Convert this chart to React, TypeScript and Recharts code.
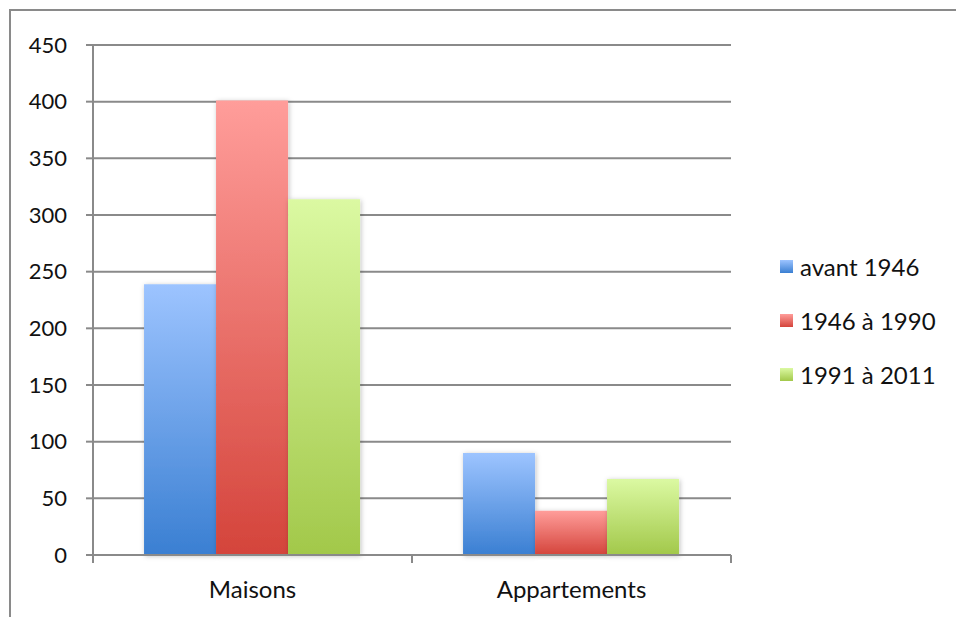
import { BarChart, Bar, XAxis, YAxis, CartesianGrid, Legend } from 'recharts';

const categories = ['Maisons', 'Appartements'];
const avant1946 = [239, 90];
const de1946a1990 = [401, 39];
const de1991a2011 = [314, 67];
const yTicks = [0, 50, 100, 150, 200, 250, 300, 350, 400, 450];

const series = [
  { name: 'avant 1946', values: avant1946, id: 'gradBlue', top: '#9dc4ff', bottom: '#3a7fd2' },
  { name: '1946 à 1990', values: de1946a1990, id: 'gradRed', top: '#ff9d9a', bottom: '#d4443b' },
  { name: '1991 à 2011', values: de1991a2011, id: 'gradGreen', top: '#dbf9a2', bottom: '#a2c84a' },
];

const data = categories.map((name, i) => {
  const row: Record<string, string | number> = { name };
  series.forEach((s) => {
    row[s.name] = s.values[i];
  });
  return row;
});

const AXIS = '#8a8a8a';
const FONT = 'Lato, "Open Sans", sans-serif';

// category labels, with the tick marks sitting on the band edges
function CategoryTick(props: any) {
  const { x, y, payload, index } = props;
  const half = payload.offset ?? 0;
  return (
    <g>
      <line x1={x - half} x2={x - half} y1={y} y2={y + 8} stroke={AXIS} strokeWidth={2} />
      {index === categories.length - 1 && (
        <line x1={x + half} x2={x + half} y1={y} y2={y + 8} stroke={AXIS} strokeWidth={2} />
      )}
      <text x={x} y={y + 43} textAnchor="middle" fill="#111" fontSize={24} fontFamily={FONT}>
        {payload.value}
      </text>
    </g>
  );
}

function LegendBox() {
  return (
    <div style={{ fontFamily: FONT, fontSize: 24, color: '#111' }}>
      {series.map((s) => (
        <div key={s.name} style={{ display: 'flex', alignItems: 'center', height: 54 }}>
          <span
            style={{
              display: 'inline-block',
              width: 13,
              height: 13,
              marginRight: 7,
              background: `linear-gradient(${s.top}, ${s.bottom})`,
            }}
          />
          <span>{s.name}</span>
        </div>
      ))}
    </div>
  );
}

export default function App() {
  return (
    <div style={{ position: 'absolute', left: 0, top: 0, width: 956, height: 617, background: '#fff' }}>
      <div
        style={{
          position: 'absolute',
          left: 9,
          top: 9,
          right: 0,
          bottom: 0,
          borderTop: `2px solid ${AXIS}`,
          borderLeft: `2px solid ${AXIS}`,
        }}
      />
      <BarChart
        width={956}
        height={617}
        data={data}
        margin={{ top: 45, right: 225, bottom: 0, left: 0 }}
        barCategoryGap="16%"
        barGap={0}
        style={{ position: 'absolute', left: 0, top: 0 }}
      >
        <defs>
          {series.map((s) => (
            <linearGradient key={s.id} id={s.id} x1="0" y1="0" x2="0" y2="1">
              <stop offset="0%" stopColor={s.top} />
              <stop offset="100%" stopColor={s.bottom} />
            </linearGradient>
          ))}
          <filter id="barShadow" x="-20%" y="-10%" width="140%" height="120%">
            <feDropShadow dx="1" dy="1" stdDeviation="2.5" floodColor="#000" floodOpacity="0.25" />
          </filter>
        </defs>
        <CartesianGrid vertical={false} stroke={AXIS} strokeWidth={2} />
        <XAxis
          dataKey="name"
          height={62}
          interval={0}
          axisLine={{ stroke: AXIS, strokeWidth: 2 }}
          tickLine={false}
          tickSize={0}
          tickMargin={0}
          tick={<CategoryTick />}
        />
        <YAxis
          width={93}
          domain={[0, 450]}
          ticks={yTicks}
          interval={0}
          axisLine={{ stroke: AXIS, strokeWidth: 2 }}
          tickLine={{ stroke: AXIS, strokeWidth: 2 }}
          tickSize={7}
          tickMargin={19}
          tick={{ fill: '#111', fontSize: 22, fontFamily: FONT }}
        />
        <Legend
          layout="vertical"
          align="center"
          verticalAlign="middle"
          content={<LegendBox />}
          wrapperStyle={{ left: 780, top: 239, width: 176 }}
        />
        {series.map((s) => (
          <Bar
            key={s.name}
            dataKey={s.name}
            fill={`url(#${s.id})`}
            filter="url(#barShadow)"
            isAnimationActive={false}
          />
        ))}
      </BarChart>
    </div>
  );
}
